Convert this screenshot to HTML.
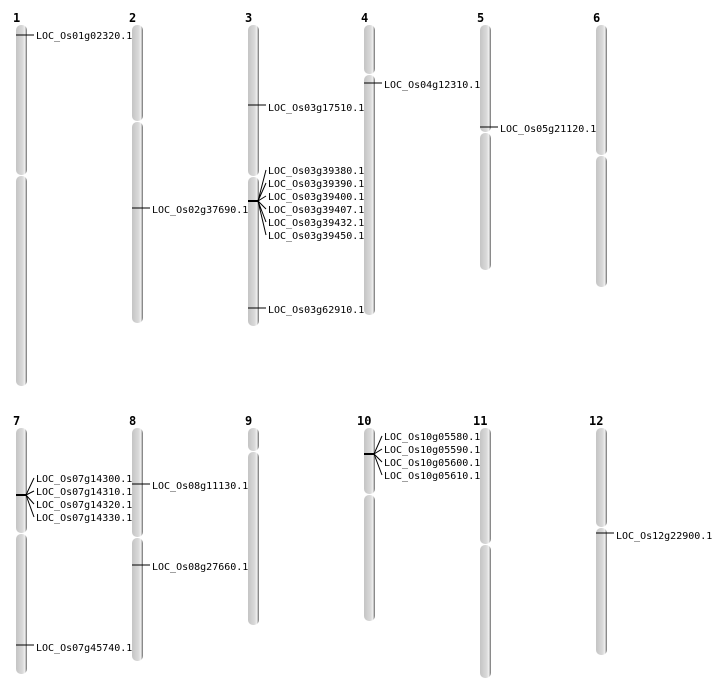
<!DOCTYPE html>
<html><head><meta charset="utf-8"><style>body{margin:0;background:#fff}svg{display:block}text{font-family:"DejaVu Sans Mono","Liberation Mono",monospace;font-size:10px;fill:#000}.n{font-weight:bold;font-size:12px}</style></head><body>
<svg width="712" height="700" xmlns="http://www.w3.org/2000/svg">
<defs><linearGradient id="g" x1="0" x2="1" y1="0" y2="0"><stop offset="0" stop-color="#c4c4c4"/><stop offset="0.6" stop-color="#dadada"/><stop offset="0.8" stop-color="#eeeeee"/><stop offset="0.9" stop-color="#b0b0b0"/><stop offset="1" stop-color="#6a6a6a"/></linearGradient></defs>
<g id="c" fill="url(#g)">
<!-- chr x0 top cent bottom -->
<rect x="16" y="25" width="11" height="150" rx="5"/><rect x="16" y="176" width="11" height="210" rx="5"/>
<rect x="132" y="25" width="11" height="96" rx="5"/><rect x="132" y="122" width="11" height="201" rx="5"/>
<rect x="248" y="25" width="11" height="151" rx="5"/><rect x="248" y="177" width="11" height="149" rx="5"/>
<rect x="364" y="25" width="11" height="49" rx="5"/><rect x="364" y="75" width="11" height="240" rx="5"/>
<rect x="480" y="25" width="11" height="107" rx="5"/><rect x="480" y="133" width="11" height="137" rx="5"/>
<rect x="596" y="25" width="11" height="130" rx="5"/><rect x="596" y="156" width="11" height="131" rx="5"/>
<rect x="16" y="428" width="11" height="105" rx="5"/><rect x="16" y="534" width="11" height="140" rx="5"/>
<rect x="132" y="428" width="11" height="109" rx="5"/><rect x="132" y="538" width="11" height="123" rx="5"/>
<rect x="248" y="428" width="11" height="23" rx="5"/><rect x="248" y="452" width="11" height="173" rx="5"/>
<rect x="364" y="428" width="11" height="66" rx="5"/><rect x="364" y="495" width="11" height="126" rx="5"/>
<rect x="480" y="428" width="11" height="116" rx="5"/><rect x="480" y="545" width="11" height="133" rx="5"/>
<rect x="596" y="428" width="11" height="99" rx="5"/><rect x="596" y="528" width="11" height="127" rx="5"/>
</g>
<g class="n">
<text class="n" x="13" y="22">1</text><text class="n" x="129" y="22">2</text><text class="n" x="245" y="22">3</text><text class="n" x="361" y="22">4</text><text class="n" x="477" y="22">5</text><text class="n" x="593" y="22">6</text>
<text class="n" x="13" y="425">7</text><text class="n" x="129" y="425">8</text><text class="n" x="245" y="425">9</text><text class="n" x="357" y="425">10</text><text class="n" x="473" y="425">11</text><text class="n" x="589" y="425">12</text>
</g>
<g stroke="#000" stroke-width="1">
<line x1="16" y1="35" x2="34" y2="35"/><line x1="132" y1="208" x2="150" y2="208"/>
<line x1="248" y1="105" x2="266" y2="105"/><line x1="248" y1="308" x2="266" y2="308"/>
<line x1="364" y1="83" x2="382" y2="83"/><line x1="480" y1="127" x2="498" y2="127"/>
<line x1="132" y1="484" x2="150" y2="484"/><line x1="132" y1="565" x2="150" y2="565"/>
<line x1="16" y1="645" x2="34" y2="645"/><line x1="596" y1="533" x2="614" y2="533"/>
<line x1="248" y1="201" x2="258" y2="201" stroke-width="2"/>
<path d="M258 201L266 170M258 201L266 183M258 201L266 196M258 201L266 209M258 201L266 222M258 201L266 235" fill="none"/>
<line x1="16" y1="495" x2="26" y2="495" stroke-width="2"/>
<path d="M26 495L34 478M26 495L34 491M26 495L34 504M26 495L34 517" fill="none"/>
<line x1="364" y1="454" x2="374" y2="454" stroke-width="2"/>
<path d="M374 454L382 436M374 454L382 449M374 454L382 462M374 454L382 475" fill="none"/>
</g>
<text x="36" y="39">LOC_Os01g02320.1</text>
<text x="152" y="213">LOC_Os02g37690.1</text>
<text x="268" y="111">LOC_Os03g17510.1</text>
<text x="268" y="174">LOC_Os03g39380.1</text>
<text x="268" y="187">LOC_Os03g39390.1</text>
<text x="268" y="200">LOC_Os03g39400.1</text>
<text x="268" y="213">LOC_Os03g39407.1</text>
<text x="268" y="226">LOC_Os03g39432.1</text>
<text x="268" y="239">LOC_Os03g39450.1</text>
<text x="268" y="313">LOC_Os03g62910.1</text>
<text x="384" y="88">LOC_Os04g12310.1</text>
<text x="500" y="132">LOC_Os05g21120.1</text>
<text x="36" y="482">LOC_Os07g14300.1</text>
<text x="36" y="495">LOC_Os07g14310.1</text>
<text x="36" y="508">LOC_Os07g14320.1</text>
<text x="36" y="521">LOC_Os07g14330.1</text>
<text x="36" y="651">LOC_Os07g45740.1</text>
<text x="152" y="489">LOC_Os08g11130.1</text>
<text x="152" y="570">LOC_Os08g27660.1</text>
<text x="384" y="440">LOC_Os10g05580.1</text>
<text x="384" y="453">LOC_Os10g05590.1</text>
<text x="384" y="466">LOC_Os10g05600.1</text>
<text x="384" y="479">LOC_Os10g05610.1</text>
<text x="616" y="539">LOC_Os12g22900.1</text>
</svg>
</body></html>
